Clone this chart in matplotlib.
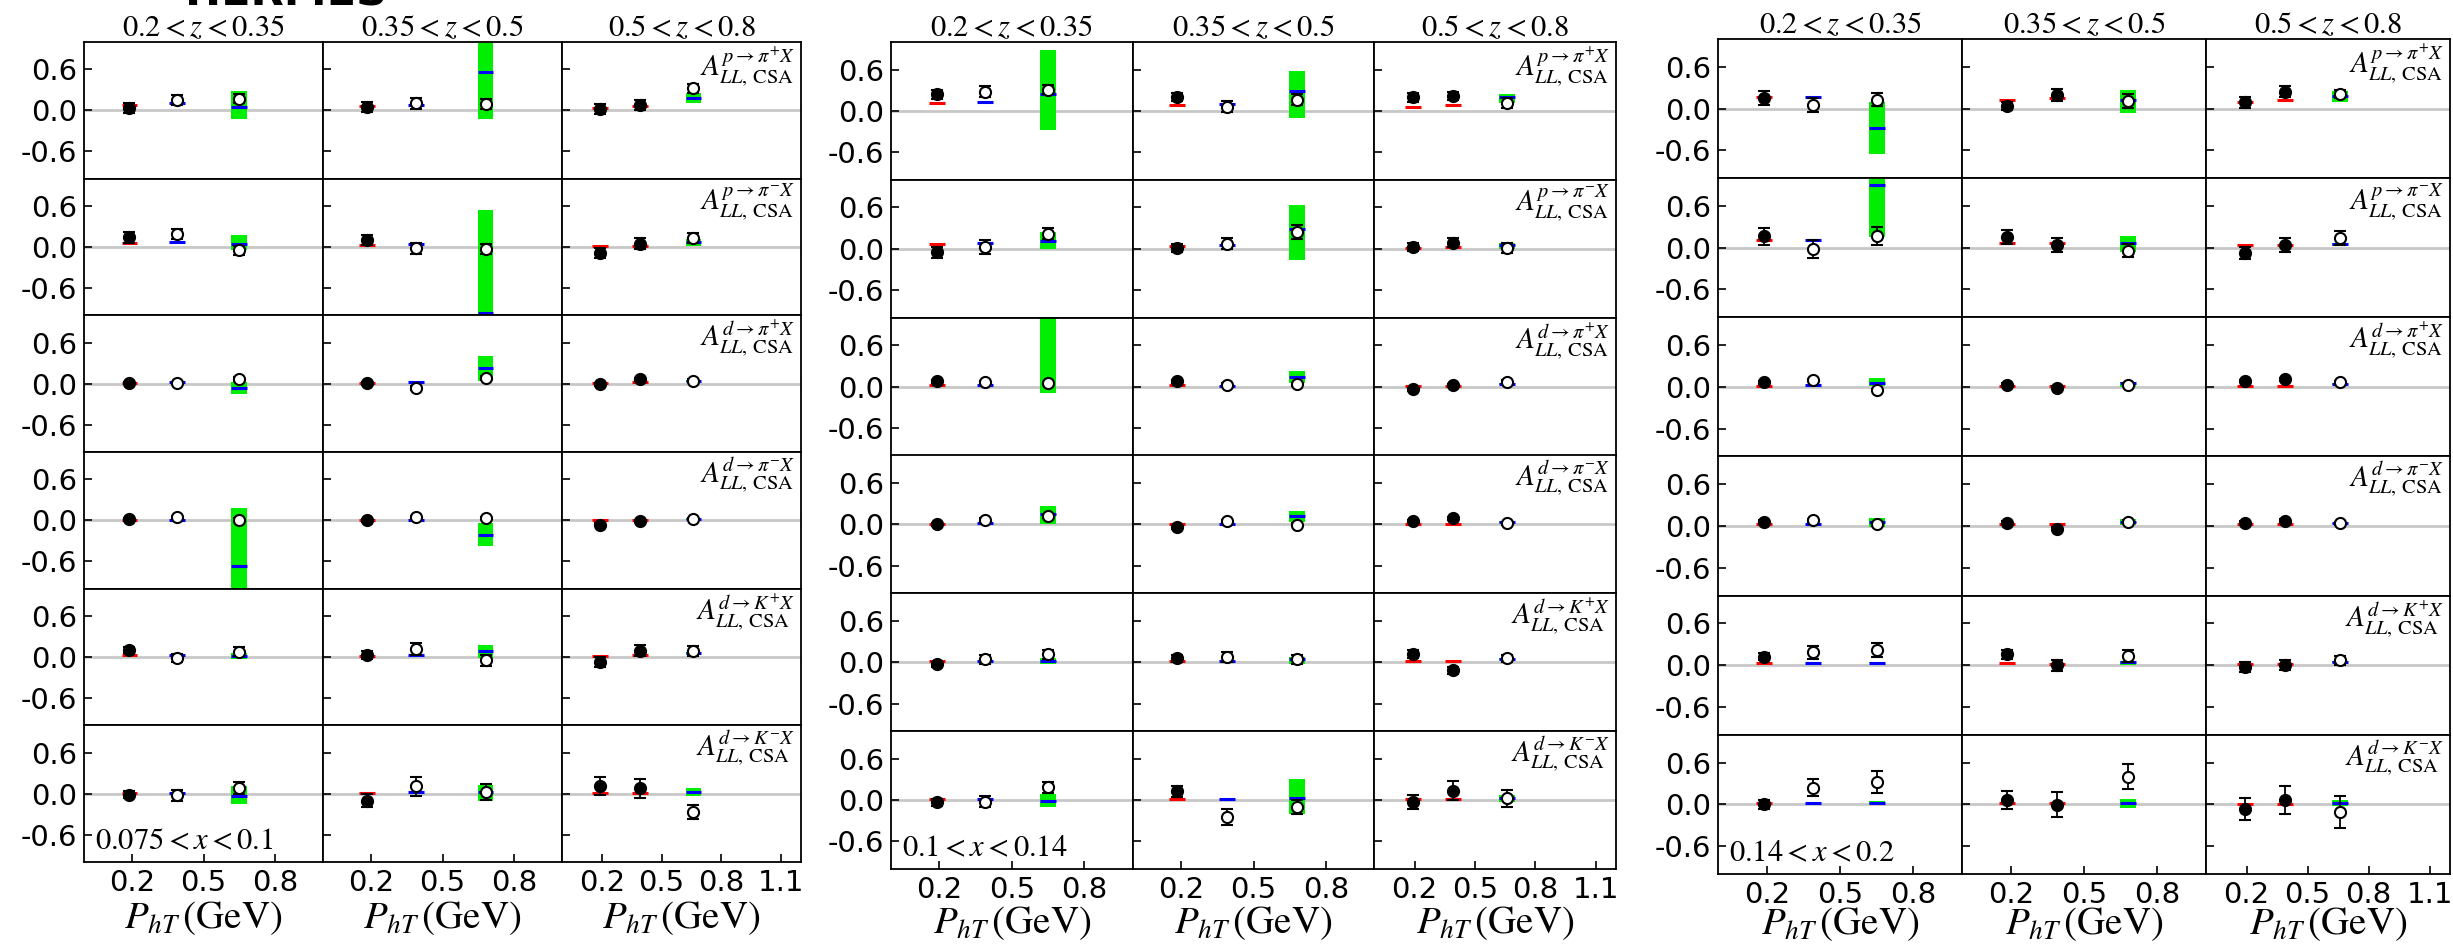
import matplotlib
matplotlib.use("Agg")
import matplotlib.pyplot as plt

plt.rcParams['mathtext.fontset'] = 'stix'
plt.rcParams['font.family'] = ['DejaVu Sans']

# bin labels
z_bins = [r'$0.2<z<0.35$', r'$0.35<z<0.5$', r'$0.5<z<0.8$']
x_bins = [r'$0.075<x<0.1$', r'$0.1<x<0.14$', r'$0.14<x<0.2$']
channels = [r'$A_{LL,\,\mathrm{CSA}}^{p\to\pi^{+}X}$',
            r'$A_{LL,\,\mathrm{CSA}}^{p\to\pi^{-}X}$',
            r'$A_{LL,\,\mathrm{CSA}}^{d\to\pi^{+}X}$',
            r'$A_{LL,\,\mathrm{CSA}}^{d\to\pi^{-}X}$',
            r'$A_{LL,\,\mathrm{CSA}}^{d\to K^{+}X}$',
            r'$A_{LL,\,\mathrm{CSA}}^{d\to K^{-}X}$']

# mean P_hT of the three points in each z bin
pt_mean = [[0.19, 0.39, 0.65],
           [0.185, 0.39, 0.68],
           [0.19, 0.39, 0.66]]
xticks_short = [0.2, 0.5, 0.8]
xticks_long = [0.2, 0.5, 0.8, 1.1]

# ---- 0.075 < x < 0.1 ----  rows = channel, cols = z bin, 3 points each
asym_b1 = [
    [[0.035, 0.155, 0.17], [0.05, 0.10, 0.09], [0.02, 0.08, 0.32]],
    [[0.145, 0.19, -0.05], [0.105, -0.02, -0.03], [-0.09, 0.045, 0.135]],
    [[0.01, 0.01, 0.065], [0.005, -0.06, 0.08], [-0.01, 0.065, 0.045]],
    [[0.02, 0.045, 0.0], [0.0, 0.045, 0.035], [-0.065, -0.01, 0.02]],
    [[0.10, -0.01, 0.08], [0.03, 0.12, -0.05], [-0.07, 0.09, 0.09]],
    [[-0.015, -0.025, 0.08], [-0.10, 0.105, 0.025], [0.115, 0.08, -0.27]],
]
err_b1 = [
    [[0.07, 0.07, 0.07], [0.07, 0.08, 0.07], [0.07, 0.07, 0.06]],
    [[0.08, 0.08, 0.06], [0.07, 0.08, 0.07], [0.07, 0.08, 0.07]],
    [[0.02, 0.02, 0.03], [0.02, 0.03, 0.03], [0.02, 0.02, 0.02]],
    [[0.02, 0.02, 0.03], [0.02, 0.02, 0.02], [0.02, 0.02, 0.02]],
    [[0.04, 0.06, 0.07], [0.06, 0.09, 0.08], [0.07, 0.08, 0.07]],
    [[0.05, 0.08, 0.09], [0.10, 0.14, 0.12], [0.13, 0.14, 0.10]],
]
model_b1 = [
    [[0.08, 0.10, 0.05], [0.07, 0.08, 0.565], [0.035, 0.06, 0.185]],
    [[0.06, 0.07, 0.045], [0.035, 0.045, -0.97], [0.02, 0.02, 0.07]],
    [[0.01, 0.02, -0.06], [0.01, 0.02, 0.235], [0.01, 0.02, 0.04]],
    [[0.01, 0.01, -0.675], [0.01, 0.01, -0.21], [0.0, 0.0, 0.02]],
    [[0.025, 0.03, 0.015], [0.015, 0.03, 0.09], [0.015, 0.025, 0.055]],
    [[0.01, 0.01, -0.03], [0.01, 0.02, 0.025], [0.01, 0.01, 0.025]],
]
band_b1 = [
    [[-0.13, 0.28], [-0.13, 0.99], [0.11, 0.26]],
    [[-0.04, 0.17], [-0.99, 0.545], [0.02, 0.11]],
    [[-0.145, 0.025], [0.035, 0.405], [0.03, 0.05]],
    [[-0.99, 0.18], [-0.38, -0.045], [0.01, 0.03]],
    [[-0.035, 0.065], [-0.01, 0.17], [0.03, 0.07]],
    [[-0.145, 0.105], [-0.11, 0.12], [-0.04, 0.08]],
]
filled_b1 = [[1, 0, 0], [1, 0, 0], [1, 1, 0]]

# ---- 0.1 < x < 0.14 ----
asym_b2 = [
    [[0.24, 0.28, 0.31], [0.205, 0.06, 0.165], [0.195, 0.22, 0.115]],
    [[-0.05, 0.025, 0.22], [0.015, 0.075, 0.245], [0.025, 0.09, 0.015]],
    [[0.075, 0.065, 0.05], [0.075, 0.025, 0.035], [-0.04, 0.02, 0.07]],
    [[0.0, 0.07, 0.115], [-0.04, 0.05, -0.005], [0.05, 0.09, 0.015]],
    [[-0.03, 0.04, 0.115], [0.055, 0.08, 0.04], [0.125, -0.115, 0.055]],
    [[-0.03, -0.025, 0.185], [0.125, -0.245, -0.105], [-0.03, 0.135, 0.025]],
]
err_b2 = [
    [[0.07, 0.08, 0.07], [0.06, 0.08, 0.08], [0.06, 0.06, 0.07]],
    [[0.08, 0.10, 0.08], [0.06, 0.08, 0.10], [0.06, 0.07, 0.07]],
    [[0.02, 0.02, 0.02], [0.02, 0.02, 0.02], [0.02, 0.02, 0.02]],
    [[0.02, 0.02, 0.02], [0.02, 0.02, 0.02], [0.02, 0.02, 0.02]],
    [[0.04, 0.06, 0.07], [0.05, 0.07, 0.07], [0.06, 0.05, 0.05]],
    [[0.05, 0.08, 0.08], [0.08, 0.12, 0.10], [0.10, 0.14, 0.12]],
]
model_b2 = [
    [[0.115, 0.13, 0.24], [0.09, 0.105, 0.29], [0.06, 0.08, 0.195]],
    [[0.07, 0.085, 0.11], [0.035, 0.05, 0.285], [0.015, 0.025, 0.055]],
    [[0.02, 0.025, 1.1], [0.02, 0.015, 0.135], [0.015, 0.015, 0.04]],
    [[0.01, 0.015, 0.145], [0.0, 0.01, 0.115], [0.01, 0.01, 0.035]],
    [[0.02, 0.02, 0.02], [0.015, 0.02, 0.04], [0.015, 0.015, 0.045]],
    [[0.015, 0.015, -0.015], [0.01, 0.015, 0.025], [0.01, 0.01, 0.025]],
]
band_b2 = [
    [[-0.27, 0.885], [-0.10, 0.575], [0.12, 0.245]],
    [[0.0, 0.245], [-0.17, 0.63], [0.0, 0.09]],
    [[-0.095, 1.3], [0.05, 0.23], [0.03, 0.05]],
    [[0.0, 0.26], [0.035, 0.195], [0.025, 0.045]],
    [[-0.03, 0.055], [-0.02, 0.08], [0.035, 0.055]],
    [[-0.10, 0.085], [-0.195, 0.305], [-0.025, 0.075]],
]
filled_b2 = [[1, 0, 0], [1, 0, 0], [1, 1, 0]]

# ---- 0.14 < x < 0.2 ----
asym_b3 = [
    [[0.155, 0.045, 0.13], [0.04, 0.195, 0.105], [0.09, 0.24, 0.205]],
    [[0.165, -0.015, 0.165], [0.155, 0.035, -0.04], [-0.075, 0.035, 0.145]],
    [[0.065, 0.10, -0.045], [0.03, -0.01, 0.03], [0.085, 0.11, 0.07]],
    [[0.065, 0.085, 0.025], [0.05, -0.035, 0.065], [0.05, 0.08, 0.04]],
    [[0.12, 0.185, 0.215], [0.155, 0.0, 0.135], [-0.025, 0.0, 0.07]],
    [[0.0, 0.24, 0.32], [0.06, -0.005, 0.395], [-0.065, 0.06, -0.11]],
]
err_b3 = [
    [[0.10, 0.10, 0.10], [0.06, 0.08, 0.10], [0.08, 0.08, 0.06]],
    [[0.12, 0.13, 0.13], [0.10, 0.10, 0.10], [0.08, 0.10, 0.10]],
    [[0.02, 0.02, 0.02], [0.02, 0.02, 0.02], [0.02, 0.02, 0.02]],
    [[0.02, 0.02, 0.02], [0.02, 0.02, 0.02], [0.02, 0.02, 0.02]],
    [[0.05, 0.09, 0.10], [0.07, 0.08, 0.09], [0.07, 0.07, 0.06]],
    [[0.07, 0.12, 0.16], [0.13, 0.18, 0.18], [0.16, 0.20, 0.23]],
]
model_b3 = [
    [[0.16, 0.16, -0.285], [0.125, 0.145, 0.13], [0.095, 0.12, 0.175]],
    [[0.105, 0.105, 0.905], [0.07, 0.075, 0.075], [0.035, 0.035, 0.05]],
    [[0.02, 0.03, 0.055], [0.015, 0.02, 0.055], [0.015, 0.015, 0.04]],
    [[0.025, 0.03, 0.065], [0.025, 0.025, 0.055], [0.025, 0.025, 0.04]],
    [[0.035, 0.035, 0.035], [0.035, 0.025, 0.04], [0.015, 0.025, 0.045]],
    [[0.025, 0.025, 0.025], [0.025, 0.025, 0.025], [0.01, 0.01, 0.02]],
]
band_b3 = [
    [[-0.65, 0.095], [-0.06, 0.265], [0.095, 0.255]],
    [[0.155, 0.99], [-0.065, 0.17], [0.02, 0.075]],
    [[0.015, 0.125], [0.0, 0.065], [0.03, 0.05]],
    [[-0.01, 0.11], [0.015, 0.095], [0.03, 0.05]],
    [[0.03, 0.04], [0.0, 0.06], [0.035, 0.055]],
    [[-0.015, 0.045], [-0.05, 0.08], [-0.025, 0.06]],
]
filled_b3 = [[1, 0, 0], [1, 1, 0], [1, 1, 0]]

W, H = 2453, 946
# pixel frame (left, right, top, bottom) of each x-bin block
frames = [(84, 801, 42, 862), (891, 1616, 42, 869), (1718, 2450, 39, 874)]
xlabel_pad = [1.5, 0, -3]
blocks = [(asym_b1, err_b1, model_b1, band_b1, filled_b1),
          (asym_b2, err_b2, model_b2, band_b2, filled_b2),
          (asym_b3, err_b3, model_b3, band_b3, filled_b3)]

fig = plt.figure(figsize=(W / 100, H / 100), dpi=100)
fig.text(185 / W, 1 - 5 / H, 'HERMES', fontsize=31, fontweight='bold', va='baseline')

for b, (asym, err, model, band, filled) in enumerate(blocks):
    left, right, top, bottom = frames[b]
    pw = (right - left) / 3
    ph = (bottom - top) / 6
    for r in range(6):
        for c in range(3):
            ax = fig.add_axes([(left + c * pw) / W, 1 - (top + (r + 1) * ph) / H, pw / W, ph / H])
            xmax = 1.2 if c == 2 else 1.0
            ax.set_xlim(0, xmax)
            ax.set_ylim(-1, 1)
            ax.axhline(0, color='0.78', lw=2, zorder=0)

            xs = pt_mean[c]
            hw = 0.033 * xmax
            lo, hi = band[r][c]
            ax.bar(xs[2], hi - lo, bottom=lo, width=2 * hw, color='#00ee00', zorder=1)
            for k in range(3):
                full = filled[c][k]
                ax.hlines(model[r][c][k], xs[k] - hw, xs[k] + hw,
                          colors='red' if full else 'blue', lw=2.2, zorder=2)
                ax.errorbar(xs[k], asym[r][c][k], yerr=err[r][c][k], fmt='o', color='k',
                            mfc='k' if full else 'white', mec='k', ms=8, mew=1.5,
                            capsize=4, elinewidth=1.3, capthick=1.3, zorder=3)

            for s in ax.spines.values():
                s.set_linewidth(1.3)
            ax.tick_params(direction='in', length=6, width=1.2, labelsize=21, pad=5)
            ax.set_yticks([-0.6, 0.0, 0.6])
            if c == 0:
                ax.set_yticklabels(['-0.6', '0.0', '0.6'])
            else:
                ax.set_yticklabels([])

            if r == 5:
                ticks = xticks_long if c == 2 else xticks_short
                ax.set_xticks(ticks)
                ax.set_xticklabels([f'{t:.1f}' for t in ticks])
                ax.set_xlabel(r'$P_{hT}\,(\mathrm{GeV})$', fontsize=28, labelpad=xlabel_pad[b])
            else:
                ax.set_xticks([])

            if r == 0:
                ax.set_title(z_bins[c], fontsize=22, pad=4)
            if c == 2:
                ax.text(0.975, 0.975, channels[r], transform=ax.transAxes,
                        ha='right', va='top', fontsize=21)
            if r == 5 and c == 0:
                ax.text(0.045, 0.095, x_bins[b], transform=ax.transAxes,
                        va='baseline', fontsize=22)

fig.savefig('out.png', dpi=100)
